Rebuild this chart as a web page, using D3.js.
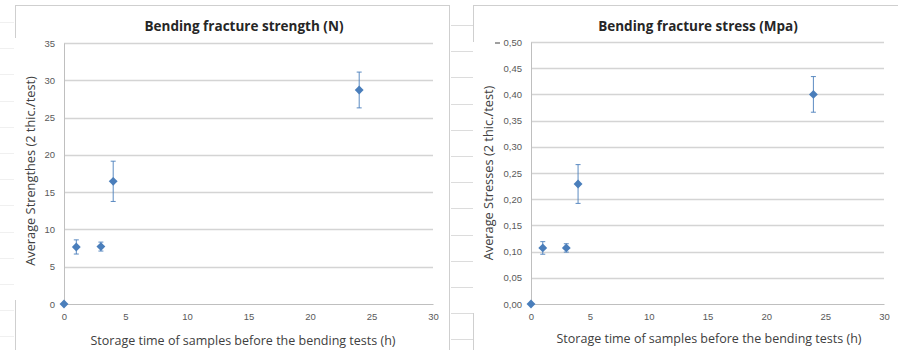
<!DOCTYPE html>
<html>
<head>
<meta charset="utf-8">
<script src="https://cdn.jsdelivr.net/npm/d3@7"></script>
<style>
  body { margin: 0; background: #fff; }
  svg { display: block; font-family: "Open Sans", "Liberation Sans", sans-serif; }
</style>
</head>
<body>
<svg id="chart" width="898" height="350"></svg>
<script>
// storage time (h)
var hours = [0, 1, 3, 4, 24];

// bending fracture strength (N)
var strength = [0, 7.65, 7.7, 16.45, 28.7];
var strengthErr = [0, 0.95, 0.6, 2.7, 2.4];
var strengthTicks = [0, 5, 10, 15, 20, 25, 30, 35];

// bending fracture stress (MPa)
var stress = [0, 0.107, 0.107, 0.229, 0.40];
var stressErr = [0, 0.012, 0.008, 0.037, 0.034];
var stressTicks = [0, 0.05, 0.10, 0.15, 0.20, 0.25, 0.30, 0.35, 0.40, 0.45, 0.50];

var xTicks = [0, 5, 10, 15, 20, 25, 30];

var svg = d3.select("#chart");
var blue = "#4a7ebb";
var grid = "#d4d4d4";
var axisCol = "#bfbfbf";
var tickText = "#595959";

// spreadsheet bits peeking out between the two charts
var sheet = svg.append("g");
d3.range(25, 350, 26.2).forEach(function(y) {
  sheet.append("line")
    .attr("x1", 451).attr("x2", 473)
    .attr("y1", Math.round(y) + 0.5).attr("y2", Math.round(y) + 0.5)
    .attr("stroke", "#dcdcdc");
});
d3.range(22, 350, 26.2).forEach(function(y) {
  sheet.append("line")
    .attr("x1", 0).attr("x2", 14)
    .attr("y1", Math.round(y) + 0.5).attr("y2", Math.round(y) + 0.5)
    .attr("stroke", "#f0f0f0");
});

// chart frames (partially visible borders)
function frame(x0, x1, gapTop, gapBottom) {
  svg.append("line").attr("x1", x0).attr("x2", x1).attr("y1", 5.5).attr("y2", 5.5)
    .attr("stroke", "#cfcfcf");
  svg.append("line").attr("x1", x0 + 0.5).attr("x2", x0 + 0.5).attr("y1", 5).attr("y2", gapTop)
    .attr("stroke", "#cfcfcf");
  svg.append("line").attr("x1", x0 + 0.5).attr("x2", x0 + 0.5).attr("y1", gapBottom).attr("y2", 350)
    .attr("stroke", "#cfcfcf");
}
frame(15, 450, 38, 300);
frame(473, 898, 42, 313);
svg.append("line").attr("x1", 449.5).attr("x2", 449.5).attr("y1", 5).attr("y2", 350)
  .attr("stroke", "#cfcfcf");

function drawChart(cfg) {
  var x = d3.scaleLinear().domain([0, 30]).range([cfg.left, cfg.right]);
  var y = d3.scaleLinear().domain([0, cfg.yMax]).range([cfg.bottom, cfg.top]);
  var g = svg.append("g");

  // horizontal gridlines
  g.selectAll(".grid").data(cfg.yTicks.filter(function(d) { return d > 0; }))
    .enter().append("line")
    .attr("x1", cfg.left).attr("x2", cfg.right)
    .attr("y1", function(d) { return Math.round(y(d)) + 0.5; })
    .attr("y2", function(d) { return Math.round(y(d)) + 0.5; })
    .attr("stroke", grid).attr("stroke-width", 1.4);

  // axes
  var yAxis = d3.axisLeft(y).tickValues(cfg.yTicks).tickSize(0).tickPadding(9)
    .tickFormat(cfg.fmt);
  var yG = g.append("g").attr("transform", "translate(" + cfg.left + ",0)").call(yAxis);
  yG.select(".domain").attr("stroke", axisCol);
  yG.selectAll("text").attr("fill", tickText).style("font-size", "9.5px");

  var xAxis = d3.axisBottom(x).tickValues(xTicks).tickSize(0).tickPadding(9);
  var xG = g.append("g").attr("transform", "translate(0," + cfg.bottom + ")").call(xAxis);
  xG.select(".domain").attr("stroke", axisCol);
  xG.selectAll("text").attr("fill", tickText).style("font-size", "9.5px");

  // error bars
  hours.forEach(function(h, i) {
    var v = cfg.values[i], e = cfg.errs[i];
    if (!(e > 0)) return;
    var gx = x(h);
    var s = g.append("g").attr("stroke", blue).attr("stroke-width", 0.9);
    s.append("line").attr("x1", gx).attr("x2", gx)
      .attr("y1", y(v - e)).attr("y2", y(v + e));
    s.append("line").attr("x1", gx - 2.5).attr("x2", gx + 2.5)
      .attr("y1", y(v + e)).attr("y2", y(v + e));
    s.append("line").attr("x1", gx - 2.5).attr("x2", gx + 2.5)
      .attr("y1", y(v - e)).attr("y2", y(v - e));
  });

  // markers
  g.selectAll(".pt").data(cfg.values).enter().append("path")
    .attr("d", d3.symbol().type(d3.symbolDiamond2).size(50))
    .attr("transform", function(d, i) {
      return "translate(" + x(hours[i]) + "," + y(d) + ")";
    })
    .attr("fill", blue);

  // title
  svg.append("text")
    .attr("x", cfg.titleX).attr("y", 31)
    .attr("text-anchor", "middle")
    .style("font-size", "13.5px").style("font-weight", "bold")
    .attr("fill", "#262626")
    .text(cfg.title);

  // y label
  svg.append("text")
    .attr("transform", "translate(" + cfg.yLabelX + "," + cfg.yLabelY + ") rotate(-90)")
    .attr("text-anchor", "middle")
    .style("font-size", "12.8px").attr("fill", "#404040")
    .text(cfg.yLabel);

  // x label
  svg.append("text")
    .attr("x", cfg.xLabelX).attr("y", cfg.xLabelY)
    .attr("text-anchor", "middle")
    .style("font-size", "12.5px").attr("fill", "#404040")
    .text("Storage time of samples before the bending tests (h)");
}

drawChart({
  left: 64, right: 433, top: 43, bottom: 304,
  yMax: 35, yTicks: strengthTicks,
  fmt: d3.format("d"),
  values: strength, errs: strengthErr,
  title: "Bending fracture strength (N)", titleX: 244,
  yLabel: "Average Strengthes (2 thic./test)", yLabelX: 35, yLabelY: 171,
  xLabelX: 243, xLabelY: 345
});

drawChart({
  left: 531, right: 884, top: 42, bottom: 304,
  yMax: 0.5, yTicks: stressTicks,
  fmt: function(d) { return d3.format(".2f")(d).replace(".", ","); },
  values: stress, errs: stressErr,
  title: "Bending fracture stress (Mpa)", titleX: 698,
  yLabel: "Average Stresses (2 thic./test)", yLabelX: 493, yLabelY: 173,
  xLabelX: 709, xLabelY: 343
});

// small stray dash next to the top tick of the right chart
svg.append("line").attr("x1", 495).attr("x2", 500).attr("y1", 43).attr("y2", 43)
  .attr("stroke", "#404040").attr("stroke-width", 1);
</script>
</body>
</html>
